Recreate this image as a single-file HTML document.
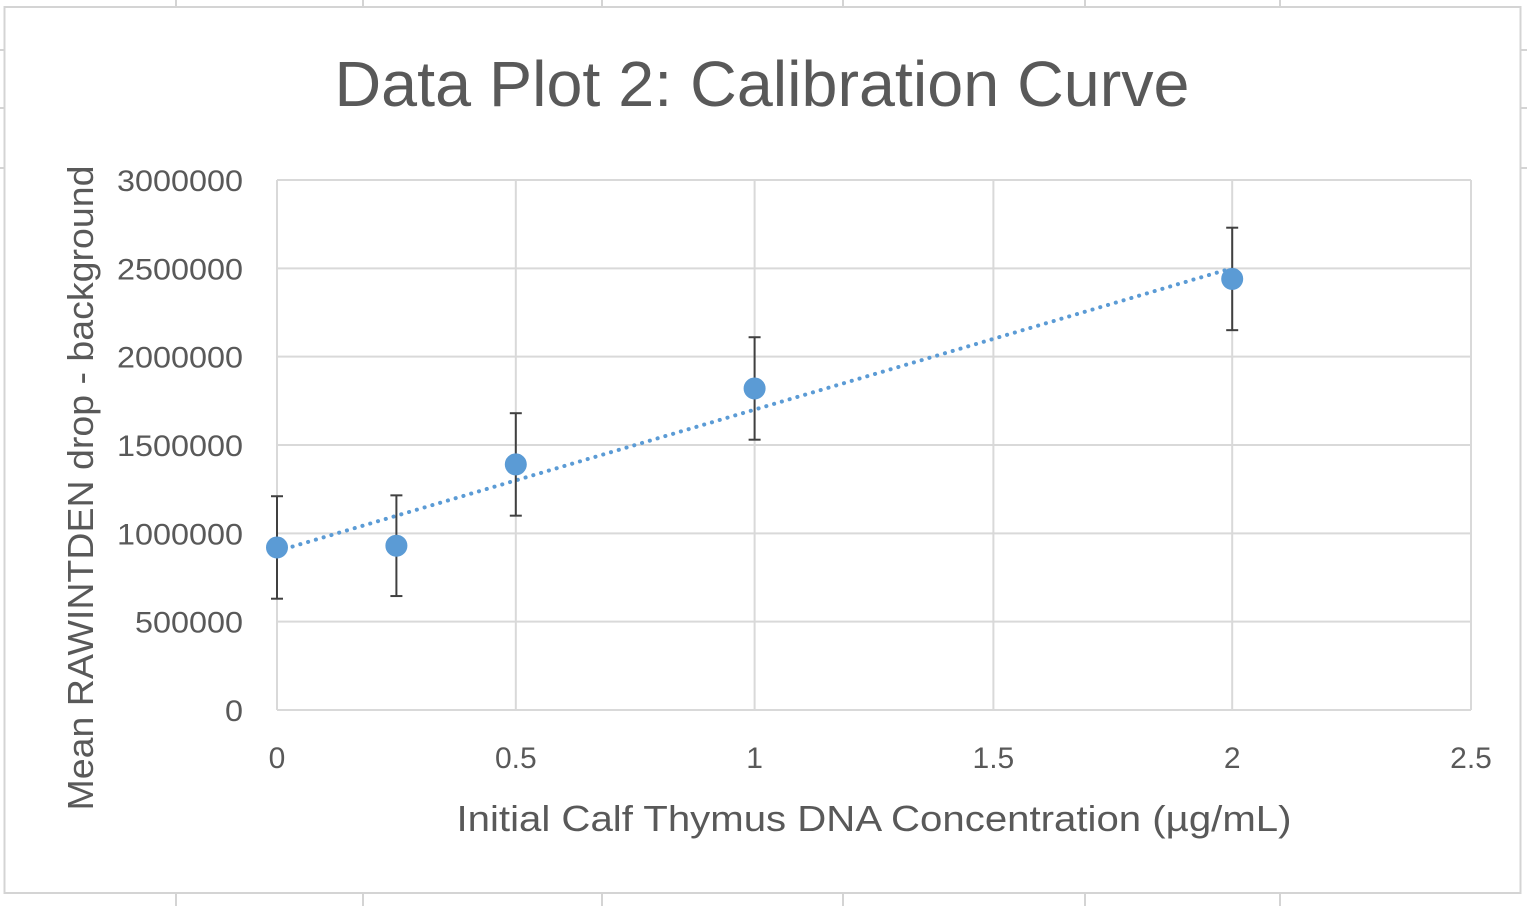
<!DOCTYPE html>
<html><head><meta charset="utf-8"><style>
html,body{margin:0;padding:0;background:#fff;}
svg{display:block;font-family:"Liberation Sans",sans-serif;}
</style></head><body>
<svg id="chart" width="1527" height="906">
<g id="cells" stroke="#d4d4d4" stroke-width="2">
<line x1="176" y1="0" x2="176" y2="7"/><line x1="363" y1="0" x2="363" y2="7"/><line x1="602" y1="0" x2="602" y2="7"/><line x1="843" y1="0" x2="843" y2="7"/><line x1="1085" y1="0" x2="1085" y2="7"/><line x1="1280" y1="0" x2="1280" y2="7"/>
<line x1="176" y1="893" x2="176" y2="906"/><line x1="363" y1="893" x2="363" y2="906"/><line x1="602" y1="893" x2="602" y2="906"/><line x1="843" y1="893" x2="843" y2="906"/><line x1="1085" y1="893" x2="1085" y2="906"/><line x1="1280" y1="893" x2="1280" y2="906"/>
<line x1="0" y1="50" x2="4" y2="50"/><line x1="0" y1="108" x2="4" y2="108"/><line x1="0" y1="168" x2="4" y2="168"/>
<line x1="1520" y1="50" x2="1527" y2="50"/><line x1="1520" y1="108" x2="1527" y2="108"/><line x1="1520" y1="168" x2="1527" y2="168"/>
</g>
<rect x="4.5" y="7" width="1516" height="886" fill="#fff" stroke="#d4d4d4" stroke-width="2"/>
<text x="762" y="106" font-size="64" fill="#595959" text-anchor="middle" textLength="855" lengthAdjust="spacingAndGlyphs">Data Plot 2: Calibration Curve</text>
<g id="grid"></g>
<g id="ticks"></g>
<g id="marks"></g>
<text x="874" y="831" font-size="36" fill="#595959" text-anchor="middle" textLength="835" lengthAdjust="spacingAndGlyphs">Initial Calf Thymus DNA Concentration (µg/mL)</text>
<text transform="translate(93,488) rotate(-90)" font-size="36" fill="#595959" text-anchor="middle" textLength="645" lengthAdjust="spacingAndGlyphs">Mean RAWINTDEN drop - background</text>
</svg>
<script>
const xValues = [0, 0.25, 0.5, 1, 2];
const yValues = [920000, 930000, 1390000, 1820000, 2440000];
const errValues = [290000, 285000, 290000, 290000, 290000];
const xTicks = [0, 0.5, 1, 1.5, 2, 2.5];
const yTicks = [0, 500000, 1000000, 1500000, 2000000, 2500000, 3000000];

const NS = "http://www.w3.org/2000/svg";
const X0 = 277, X1 = 1471, Y0 = 710, Y1 = 180;
const xs = v => X0 + (v - 0) / 2.5 * (X1 - X0);
const ys = v => Y0 - v / 3000000 * (Y0 - Y1);
function mk(tag, attrs, parent) {
  const e = document.createElementNS(NS, tag);
  for (const k in attrs) e.setAttribute(k, attrs[k]);
  document.getElementById(parent).appendChild(e);
  return e;
}
yTicks.forEach(t => {
  const l = mk('line', {x1: X0, x2: X1, y1: ys(t), y2: ys(t), stroke: '#d9d9d9', 'stroke-width': 2}, 'grid');
  
  
  const s = String(t);
  const tx = mk('text', {x: 243, y: ys(t) + 11, 'font-size': 30, fill: '#595959', 'text-anchor': 'end', textLength: s.length * 18, lengthAdjust: 'spacingAndGlyphs'}, 'ticks');
  tx.textContent = s;
  
  
});
xTicks.forEach(t => {
  const l = mk('line', {x1: xs(t), x2: xs(t), y1: Y1, y2: Y0, stroke: '#d9d9d9', 'stroke-width': 2}, 'grid');
  
  
  const tx = mk('text', {x: xs(t), y: 768, 'font-size': 30, fill: '#595959', 'text-anchor': 'middle'}, 'ticks');
  tx.textContent = t;
  
  
});
// linear trendline (least squares)
const n = xValues.length;
const mx = xValues.reduce((a, b) => a + b) / n, my = yValues.reduce((a, b) => a + b) / n;
let sxy = 0, sxx = 0;
for (let i = 0; i < n; i++) { sxy += (xValues[i] - mx) * (yValues[i] - my); sxx += (xValues[i] - mx) ** 2; }
const slope = sxy / sxx, icpt = my - slope * mx;
const xmin = Math.min(...xValues), xmax = Math.max(...xValues);
const tl = mk('line', {x1: xs(xmin), y1: ys(icpt + slope * xmin), x2: xs(xmax), y2: ys(icpt + slope * xmax), stroke: '#5b9bd5', 'stroke-width': 4, 'stroke-dasharray': '0.1 8', 'stroke-linecap': 'round'}, 'marks');


for (let i = 0; i < n; i++) {
  const x = xs(xValues[i]), hi = ys(yValues[i] + errValues[i]), lo = ys(yValues[i] - errValues[i]);
  const g = mk('g', {stroke: '#404040', 'stroke-width': 2}, 'marks');
  
  
  [[x, hi, x, lo], [x - 6, hi, x + 6, hi], [x - 6, lo, x + 6, lo]].forEach(c => {
    const l = document.createElementNS(NS, 'line');
    l.setAttribute('x1', c[0]); l.setAttribute('y1', c[1]); l.setAttribute('x2', c[2]); l.setAttribute('y2', c[3]);
    g.appendChild(l);
  });
}
for (let i = 0; i < n; i++) {
  const c = mk('circle', {cx: xs(xValues[i]), cy: ys(yValues[i]), r: 10.5, fill: '#5b9bd5', stroke: '#5b9bd5', 'stroke-width': 1}, 'marks');
  
  
}
</script>
</body></html>
